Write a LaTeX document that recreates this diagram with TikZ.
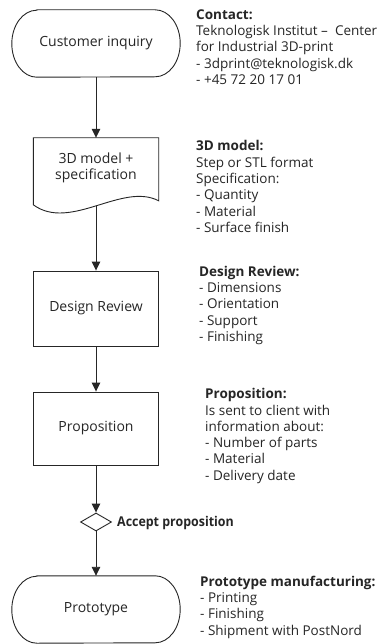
\documentclass[tikz,border=0pt]{standalone}
\usepackage{fontspec}
\usepackage{graphicx}
\setmainfont{Open Sans}
\usetikzlibrary{arrows.meta,shapes.geometric,calc}
\definecolor{ink}{HTML}{262626}
\newcommand{\sidefont}{\fontsize{13.5}{16.3}\selectfont}
\newcommand{\labfont}{\fontsize{14}{16}\selectfont}
\newcommand{\termoutline}[1]{%
  \draw[outline] ([xshift=25pt]#1.north west) -- ([xshift=-25pt]#1.north east)
    arc[start angle=90,end angle=-90,x radius=25pt,y radius=33.5pt]
    -- ([xshift=25pt]#1.south west)
    arc[start angle=270,end angle=90,x radius=25pt,y radius=33.5pt] -- cycle;}
\begin{document}
\begin{tikzpicture}[x=1pt,y=-1pt,
  outline/.style={draw=ink,line width=0.9pt},
  flow/.style={draw=ink,line width=0.9pt,-{Triangle[width=8.5pt,length=9pt]}},
  box/.style={draw=ink,line width=0.9pt,minimum width=125pt,inner sep=0pt,font=\labfont,text=ink,align=center},
  docnode/.style={minimum width=125pt,minimum height=60pt,inner sep=0pt,font=\labfont,text=ink,align=center},
  termnode/.style={minimum width=168pt,minimum height=67pt,inner sep=0pt,font=\labfont,text=ink},
  decision/.style={diamond,draw=ink,line width=0.9pt,minimum width=31pt,minimum height=18pt,inner sep=0pt,aspect=1.72},
  side/.style={anchor=north west,inner sep=0pt,align=left,font=\sidefont,text=ink}]
\useasboundingbox (0,0) rectangle (390,644);
\fill[white] (0,0) rectangle (390,644);

% flow nodes
\node[termnode] (ci) at (96,43.5) {Customer inquiry};
\termoutline{ci}
\node[docnode] (doc) at (96,168) {3D model +\\specification};
\draw[outline] (doc.north west) -- (doc.north east) -- ($(doc.north east)+(0,63)$)
  .. controls ($(doc.north west)+(89,44)$) and ($(doc.north west)+(37,94)$) .. ($(doc.north west)+(0,67)$) -- cycle;
\coordinate (docb) at ($(doc.north)+(0,68)$);
\node[box,minimum height=75pt] (dr) at (96,308.5) {Design Review};
\node[box,minimum height=73pt] (prop) at (96,428.5) {Proposition};
\node[decision] (dec) at (96,522) {};
\node[termnode] (proto) at (96,609.5) {Prototype};
\termoutline{proto}

% connectors
\draw[flow] (ci) -- (doc);
\draw[flow] (docb) -- (dr);
\draw[flow] (dr) -- (prop);
\draw[flow] (prop) -- (dec);
\draw[flow] (dec) -- (proto);

% side texts
\node[side] (tcontact) at (196,7.6) {\strut\textbf{Contact:}\\Teknologisk Institut –\ \ Center\\for Industrial 3D-print\\- 3dprint@teknologisk.dk\\- +45 72 20 17 01};
\node[side] (tmodel) at (196,139.3) {\strut\textbf{3D model:}\\Step or STL format\\Specification:\\- Quantity\\- Material\\- Surface finish};
\node[side] (treview) at (199,264.6) {\strut\textbf{Design Review:}\\- Dimensions\\- Orientation\\- Support\\- Finishing};
\node[side] (tprop) at (205,387.1) {\strut\textbf{Proposition:}\\Is sent to client with\\information about:\\- Number of parts\\- Material\\- Delivery date};
\node[side,font=\sidefont\bfseries] (taccept) at (117,514.6) {\strut\scalebox{0.92}[1]{Accept proposition}};
\node[side] (tproto) at (200,574.6) {\strut\textbf{Prototype manufacturing:}\\- Printing\\- Finishing\\- Shipment with PostNord};
\end{tikzpicture}
\end{document}
